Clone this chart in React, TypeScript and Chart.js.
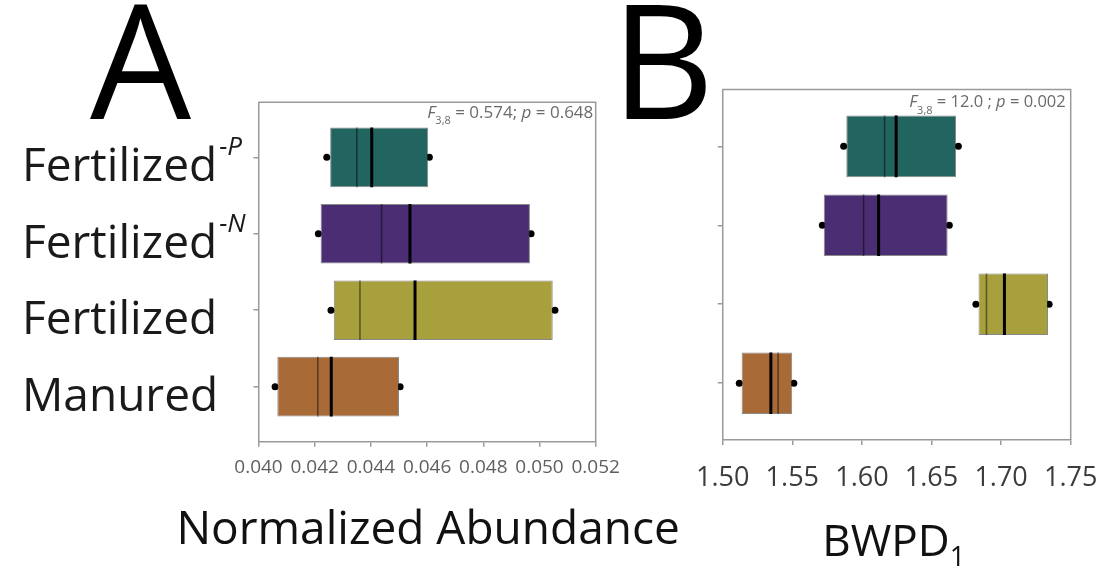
import { useEffect, useRef } from 'react';
import { Chart, registerables } from 'chart.js';

Chart.register(...registerables);

// ---------- data ----------
const categories = ['Fertilized', 'Fertilized', 'Fertilized', 'Manured'];
const superscripts = ['-P', '-N', '', ''];
const positions = [0, 1, 2, 3];
const boxColors = ['#22645f', '#4a2d72', '#a8a03c', '#a86a37'];

// Panel A: Normalized Abundance
const aMin = [0.04243, 0.04213, 0.04258, 0.04059];
const aQ1 = [0.04255, 0.04221, 0.04268, 0.04067];
const aMean = [0.0435, 0.04438, 0.04361, 0.04211];
const aMedian = [0.04403, 0.04539, 0.04557, 0.04259];
const aQ3 = [0.04604, 0.04966, 0.05047, 0.045];
const aMax = [0.04608, 0.0497, 0.05055, 0.04504];
const aTicks = [0.04, 0.042, 0.044, 0.046, 0.048, 0.05, 0.052];

// Panel B: BWPD1
const bMin = [1.5869, 1.5716, 1.6819, 1.5119];
const bQ1 = [1.5888, 1.5726, 1.6838, 1.5136];
const bMean = [1.6163, 1.6012, 1.6895, 1.5398];
const bMedian = [1.6246, 1.612, 1.7024, 1.5346];
const bQ3 = [1.6676, 1.6616, 1.7337, 1.5499];
const bMax = [1.6693, 1.6628, 1.7345, 1.5511];
const bTicks = [1.5, 1.55, 1.6, 1.65, 1.7, 1.75];

// ---------- layout / style ----------
const FONT = "'Open Sans', sans-serif";
const BAR_FRACTION = 0.78;
const Y_MIN = -0.72;
const Y_MAX = 3.72;
const CANVAS_H = 581;

type Part = { t: string; italic?: boolean; size: number; dy?: number };

const panelA = {
  canvasLeft: 0,
  canvasWidth: 720,
  area: { left: 258.5, right: 595.7, top: 102.3, bottom: 441.7 },
  letter: 'A',
  letterX: 90,
  min: aMin, q1: aQ1, mean: aMean, median: aMedian, q3: aQ3, max: aMax,
  ticks: aTicks,
  decimals: 3,
  tickFont: 19,
  tickColor: '#5f5f5f',
  tickPadding: 9,
  stat: [
    { t: 'F', italic: true, size: 17 },
    { t: '3,8', size: 11, dy: 6 },
    { t: ' = 0.574; ', size: 17 },
    { t: 'p', italic: true, size: 17 },
    { t: ' = 0.648', size: 17 },
  ] as Part[],
  statInset: 2.4,
  statDrop: 16,
  title: [{ t: 'Normalized Abundance', size: 46 }] as Part[],
  titleBaseline: 544.3,
  titleShift: 1,
  showLabels: true,
};

const panelB = {
  canvasLeft: 600,
  canvasWidth: 504,
  area: { left: 722.7, right: 1070.7, top: 89.5, bottom: 440 },
  letter: 'B',
  letterX: 611,
  min: bMin, q1: bQ1, mean: bMean, median: bMedian, q3: bQ3, max: bMax,
  ticks: bTicks,
  decimals: 2,
  tickFont: 27,
  tickColor: '#3c3c3c',
  tickPadding: 17,
  stat: [
    { t: 'F', italic: true, size: 16.5 },
    { t: '3,8', size: 11, dy: 7 },
    { t: ' = 12.0 ; ', size: 16.5 },
    { t: 'p', italic: true, size: 16.5 },
    { t: ' = 0.002', size: 16.5 },
  ] as Part[],
  statInset: 5,
  statDrop: 17.8,
  title: [
    { t: 'BWPD', size: 44 },
    { t: '1', size: 27, dy: 10 },
  ] as Part[],
  titleBaseline: 556,
  titleShift: -3,
  showLabels: false,
};

type Panel = typeof panelA;

function partFont(p: Part) {
  return `${p.italic ? 'italic ' : ''}${p.size}px ${FONT}`;
}

function drawParts(ctx: CanvasRenderingContext2D, parts: Part[], x: number, baseline: number, align: 'left' | 'right' | 'center') {
  let total = 0;
  for (const p of parts) {
    ctx.font = partFont(p);
    total += ctx.measureText(p.t).width;
  }
  let cx = align === 'right' ? x - total : align === 'center' ? x - total / 2 : x;
  ctx.textAlign = 'left';
  ctx.textBaseline = 'alphabetic';
  for (const p of parts) {
    ctx.font = partFont(p);
    ctx.fillText(p.t, cx, baseline + (p.dy || 0));
    cx += ctx.measureText(p.t).width;
  }
}

function makeChart(canvas: HTMLCanvasElement, panel: Panel) {
  const off = panel.canvasLeft;
  const left = panel.area.left - off;
  const right = panel.area.right - off;
  const halfBar = (c: any) => {
    const s = c.chart.scales.y;
    return Math.abs(s.getPixelForValue(BAR_FRACTION / 2) - s.getPixelForValue(0));
  };
  const pts = (vals: number[]) => positions.map((p, i) => ({ x: vals[i], y: p }));

  const textPlugin = {
    id: 'panelText',
    afterDraw(chart: any) {
      const ctx: CanvasRenderingContext2D = chart.ctx;
      const area = chart.chartArea;
      const yScale = chart.scales.y;
      ctx.save();
      // frame top and right
      ctx.strokeStyle = '#9a9a9a';
      ctx.lineWidth = 1.5;
      ctx.beginPath();
      ctx.moveTo(area.left, area.top);
      ctx.lineTo(area.right, area.top);
      ctx.lineTo(area.right, area.bottom);
      ctx.stroke();
      // panel letter
      ctx.fillStyle = '#000';
      ctx.font = `160px ${FONT}`;
      ctx.textAlign = 'left';
      ctx.textBaseline = 'alphabetic';
      ctx.fillText(panel.letter, panel.letterX - off, 119.3);
      // statistic
      ctx.fillStyle = '#6a6a6a';
      drawParts(ctx, panel.stat, area.right - panel.statInset, area.top + panel.statDrop, 'right');
      // axis title
      ctx.fillStyle = '#111';
      drawParts(ctx, panel.title, (area.left + area.right) / 2 + panel.titleShift, panel.titleBaseline, 'center');
      // category labels
      if (panel.showLabels) {
        categories.forEach((name, i) => {
          const base = yScale.getPixelForValue(positions[i]) + 24;
          ctx.fillStyle = '#1a1a1a';
          ctx.font = `46px ${FONT}`;
          ctx.fillText(name, 22, base);
          if (superscripts[i]) {
            const w = ctx.measureText(name).width;
            ctx.font = `italic 26px ${FONT}`;
            ctx.fillText(superscripts[i], 22 + w + 2, base - 26);
          }
        });
      }
      ctx.restore();
    },
  };

  const gridOpts = {
    display: true,
    offset: false,
    drawOnChartArea: false,
    drawTicks: true,
    tickLength: 5,
    color: '#9a9a9a',
    lineWidth: 1.5,
  };

  return new Chart(canvas, {
    type: 'bar',
    data: {
      datasets: [
        {
          type: 'scatter',
          data: pts(panel.min),
          pointStyle: 'circle',
          pointRadius: 3.5,
          pointBackgroundColor: '#000',
          pointBorderWidth: 0,
          order: 3,
        },
        {
          type: 'scatter',
          data: pts(panel.max),
          pointStyle: 'circle',
          pointRadius: 3.5,
          pointBackgroundColor: '#000',
          pointBorderWidth: 0,
          order: 3,
        },
        {
          type: 'bar',
          indexAxis: 'y',
          data: positions.map((p, i) => ({ x: [panel.q1[i], panel.q3[i]], y: p })),
          backgroundColor: boxColors,
          borderColor: 'rgba(40,40,40,0.55)',
          borderWidth: 1,
          borderSkipped: false,
          barPercentage: BAR_FRACTION,
          categoryPercentage: 1,
          order: 2,
        },
        {
          type: 'scatter',
          data: pts(panel.mean),
          pointStyle: 'line',
          pointRotation: 90,
          pointRadius: halfBar,
          pointBorderColor: 'rgba(0,0,0,0.45)',
          pointBorderWidth: 1.6,
          order: 1,
        },
        {
          type: 'scatter',
          data: pts(panel.median),
          pointStyle: 'line',
          pointRotation: 90,
          pointRadius: halfBar,
          pointBorderColor: '#000',
          pointBorderWidth: 3,
          order: 0,
        },
      ] as any,
    },
    options: {
      responsive: false,
      animation: false,
      events: [],
      layout: {
        padding: { left: 0, top: panel.area.top, right: panel.canvasWidth - right, bottom: 0 },
      },
      plugins: { legend: { display: false }, tooltip: { enabled: false } },
      scales: {
        x: {
          type: 'linear',
          position: 'bottom',
          offset: false,
          min: panel.ticks[0],
          max: panel.ticks[panel.ticks.length - 1],
          afterBuildTicks: (s: any) => {
            s.ticks = panel.ticks.map((v) => ({ value: v }));
          },
          afterFit: (s: any) => {
            s.height = CANVAS_H - panel.area.bottom;
            s.paddingLeft = 0;
            s.paddingRight = 0;
          },
          ticks: {
            autoSkip: false,
            maxRotation: 0,
            minRotation: 0,
            padding: panel.tickPadding,
            color: panel.tickColor,
            font: { family: FONT, size: panel.tickFont },
            callback: (v: any) => Number(v).toFixed(panel.decimals),
          },
          grid: gridOpts,
          border: { display: true, color: '#9a9a9a', width: 1.5 },
        },
        y: {
          type: 'linear',
          position: 'left',
          offset: false,
          reverse: true,
          min: Y_MIN,
          max: Y_MAX,
          afterBuildTicks: (s: any) => {
            s.ticks = positions.map((v) => ({ value: v }));
          },
          afterFit: (s: any) => {
            s.width = left;
          },
          ticks: { display: false },
          grid: gridOpts,
          border: { display: true, color: '#9a9a9a', width: 1.5 },
        },
      },
    } as any,
    plugins: [textPlugin],
  });
}

export default function App() {
  const refA = useRef<HTMLCanvasElement>(null);
  const refB = useRef<HTMLCanvasElement>(null);
  useEffect(() => {
    const a = makeChart(refA.current as HTMLCanvasElement, panelA);
    const b = makeChart(refB.current as HTMLCanvasElement, panelB);
    return () => {
      a.destroy();
      b.destroy();
    };
  }, []);
  return (
    <div style={{ position: 'absolute', left: 0, top: 0, width: 1104, height: 581, background: '#fff', overflow: 'hidden' }}>
      <canvas ref={refA} width={panelA.canvasWidth} height={CANVAS_H} style={{ position: 'absolute', left: panelA.canvasLeft, top: 0 }} />
      <canvas ref={refB} width={panelB.canvasWidth} height={CANVAS_H} style={{ position: 'absolute', left: panelB.canvasLeft, top: 0 }} />
    </div>
  );
}
